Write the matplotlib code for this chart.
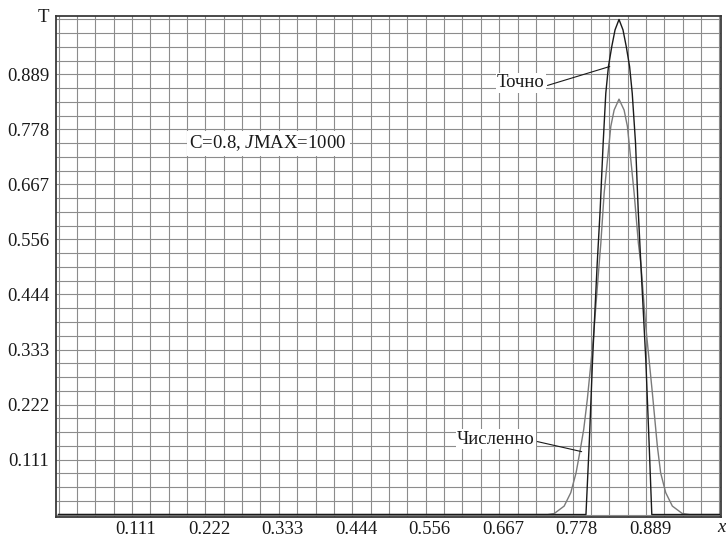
import numpy as np
import matplotlib as mpl
mpl.use("Agg")
import matplotlib.pyplot as plt
from matplotlib.transforms import ScaledTranslation

# values
x_exact = [0.0, 0.798, 0.803, 0.808, 0.815, 0.8195, 0.824, 0.828, 0.832, 0.837, 0.842, 0.848,
           0.854, 0.859, 0.864, 0.868, 0.873, 0.877, 0.881, 0.8885, 0.8935, 0.8976, 1.0]
T_exact = [0.0, 0.0, 0.145, 0.313, 0.507, 0.616, 0.750, 0.851, 0.905, 0.945, 0.979, 1.0,
           0.979, 0.945, 0.905, 0.851, 0.750, 0.616, 0.507, 0.313, 0.145, 0.0, 0.0]

x_num = [0.0, 0.740, 0.750, 0.765, 0.775, 0.783, 0.789, 0.7946, 0.800, 0.809, 0.818, 0.8205,
         0.8255, 0.8305, 0.8356, 0.8406, 0.848, 0.8557, 0.8607, 0.8659, 0.8709, 0.8773, 0.881,
         0.8885, 0.8985, 0.906, 0.911, 0.9187, 0.9287, 0.9438, 0.955, 1.0]
T_num = [0.0, 0.0, 0.002, 0.017, 0.044, 0.084, 0.128, 0.172, 0.232, 0.353, 0.507, 0.548,
         0.649, 0.716, 0.784, 0.817, 0.839, 0.817, 0.784, 0.716, 0.649, 0.548, 0.507,
         0.380, 0.245, 0.138, 0.084, 0.044, 0.017, 0.002, 0.0, 0.0]

tick_vals = [1/9, 2/9, 3/9, 4/9, 5/9, 6/9, 7/9, 8/9]
tick_labels = ["0.111", "0.222", "0.333", "0.444", "0.556", "0.667", "0.778", "0.889"]
n_grid = 36

plt.rcParams['font.family'] = ['Liberation Serif', 'DejaVu Serif']
plt.rcParams['mathtext.fontset'] = 'custom'
plt.rcParams['mathtext.rm'] = 'Liberation Serif'
plt.rcParams['mathtext.it'] = 'Liberation Serif:italic'

fig = plt.figure(figsize=(7.26, 5.39), dpi=100)
ax = fig.add_axes([56/726, 22.5/539, 665/726, 500.5/539])

ax.plot(x_num, T_num, color='#7a7a7a', lw=1.0, zorder=3)
ax.plot(x_exact, T_exact, color='#1a1a1a', lw=1.0, zorder=4)

ax.set_xlim(-0.0038, 1.0023)
ax.set_ylim(-0.004, 1.007)

grid_pos = np.arange(n_grid + 1) / n_grid
ax.set_xticks(grid_pos, minor=True)
ax.set_yticks(grid_pos, minor=True)
ax.set_xticks(tick_vals)
ax.set_xticklabels(tick_labels)
ax.set_yticks(tick_vals)
ax.set_yticklabels(tick_labels)
ax.grid(which='both', color='#8c8c8c', lw=0.8)
ax.set_axisbelow(True)
ax.tick_params(which='both', length=0, labelsize=13.5, colors='#1a1a1a')
ax.tick_params(axis='x', pad=3)
ax.tick_params(axis='y', pad=5)
off = ScaledTranslation(4/100, 0, fig.dpi_scale_trans)
for lab in ax.get_xticklabels():
    lab.set_transform(lab.get_transform() + off)

for s in ax.spines.values():
    s.set_color('#3a3a3a')
    s.set_linewidth(1.3)

fig.text(43/726, 1 - 18/539, "T", fontsize=13.5, ha='center', va='center', color='#1a1a1a')
fig.text(721/726, 1 - 527/539, "x", fontsize=13.5, style='italic', ha='center', va='center', color='#1a1a1a')

ax.text(0.317, 0.750, r"C=0.8, $\mathit{J}$MAX=1000", fontsize=13.5, ha='center', va='center',
        color='#1a1a1a', bbox=dict(facecolor='white', edgecolor='none', pad=2), zorder=5)

ax.annotate("Точно", xy=(0.834, 0.905), xytext=(0.6997, 0.872), fontsize=13.5,
            ha='center', va='center', color='#1a1a1a', zorder=5,
            bbox=dict(facecolor='white', edgecolor='none', pad=1),
            arrowprops=dict(arrowstyle='-', color='#1a1a1a', lw=0.8, relpos=(1, 0.3),
                            shrinkA=1, shrinkB=0))
ax.annotate("Численно", xy=(0.7915, 0.127), xytext=(0.6616, 0.152), fontsize=13.5,
            ha='center', va='center', color='#1a1a1a', zorder=5,
            bbox=dict(facecolor='white', edgecolor='none', pad=1),
            arrowprops=dict(arrowstyle='-', color='#1a1a1a', lw=0.8, relpos=(1, 0.4),
                            shrinkA=1, shrinkB=0))

fig.savefig("out.png", dpi=100)
